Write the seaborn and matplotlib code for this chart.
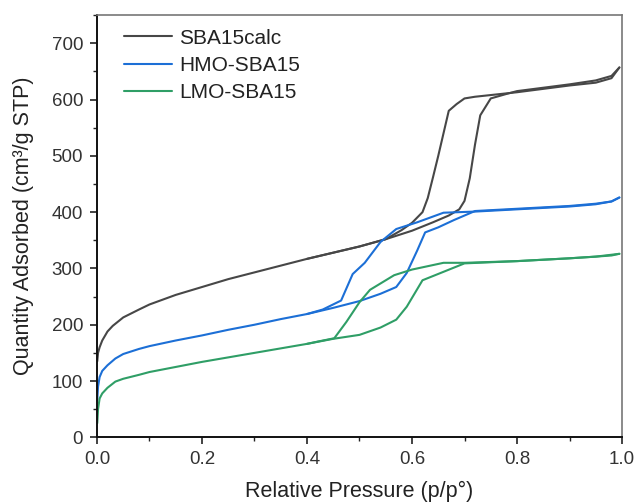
import numpy as np
import pandas as pd
import matplotlib
matplotlib.use("Agg")
import matplotlib.pyplot as plt
from matplotlib.ticker import MultipleLocator
import seaborn as sns

series_names = ["SBA15calc", "HMO-SBA15", "LMO-SBA15"]
series_colors = ["#474747", "#1c6fd6", "#2f9e66"]

sba_ads_x = [0.0005, 0.002, 0.005, 0.01, 0.02, 0.03, 0.05, 0.08, 0.1, 0.15, 0.2, 0.25, 0.3, 0.35,
             0.4, 0.45, 0.5, 0.55, 0.6, 0.64, 0.67, 0.69, 0.70, 0.71, 0.72, 0.73, 0.75, 0.78, 0.8,
             0.85, 0.9, 0.95, 0.98, 0.995]
sba_ads_y = [135, 150, 160, 172, 188, 198, 213, 227, 236, 253, 267, 281, 293, 305,
             317, 328, 339, 352, 367, 382, 394, 405, 420, 460, 520, 572, 602, 610, 615,
             621, 627, 634, 642, 657]
sba_des_x = [0.995, 0.98, 0.95, 0.9, 0.85, 0.8, 0.75, 0.72, 0.70, 0.685, 0.67, 0.66, 0.65, 0.64,
             0.63, 0.62, 0.60, 0.58, 0.55, 0.5, 0.45, 0.4]
sba_des_y = [657, 638, 630, 625, 619, 613, 608, 605, 602, 592, 580, 540, 500, 462,
             425, 400, 381, 368, 352, 339, 328, 317]

hmo_ads_x = [0.0005, 0.002, 0.005, 0.01, 0.02, 0.035, 0.05, 0.08, 0.1, 0.15, 0.2, 0.25, 0.3, 0.35,
             0.4, 0.45, 0.5, 0.54, 0.57, 0.59, 0.61, 0.625, 0.65, 0.68, 0.72, 0.8, 0.9, 0.95,
             0.98, 0.995]
hmo_ads_y = [66, 90, 107, 118, 128, 140, 148, 157, 162, 172, 181, 191, 200, 210,
             219, 230, 242, 255, 267, 292, 332, 364, 373, 386, 402, 406, 411, 415,
             419, 426]
hmo_des_x = [0.995, 0.98, 0.95, 0.9, 0.8, 0.72, 0.66, 0.61, 0.57, 0.54, 0.51, 0.487, 0.465, 0.43, 0.4]
hmo_des_y = [426, 419, 414, 410, 405, 401, 399, 382, 370, 347, 310, 290, 243, 227, 219]

lmo_ads_x = [0.0005, 0.002, 0.005, 0.01, 0.02, 0.035, 0.05, 0.08, 0.1, 0.15, 0.2, 0.25, 0.3, 0.35,
             0.4, 0.45, 0.5, 0.54, 0.57, 0.59, 0.62, 0.66, 0.70, 0.8, 0.9, 0.95, 0.98, 0.995]
lmo_ads_y = [25, 50, 69, 78, 88, 99, 104, 111, 116, 125, 134, 142, 150, 158,
             166, 175, 182, 195, 209, 232, 279, 294, 309, 313, 318, 321, 323, 326]
lmo_des_x = [0.995, 0.95, 0.9, 0.8, 0.7, 0.66, 0.6, 0.566, 0.52, 0.5, 0.475, 0.452, 0.42, 0.4]
lmo_des_y = [326, 321, 318, 313, 310, 310, 298, 288, 262, 240, 205, 176, 170, 166]

x_ticks = [0.0, 0.2, 0.4, 0.6, 0.8, 1.0]
y_ticks = [0, 100, 200, 300, 400, 500, 600, 700]

sns.set_style("ticks")
plt.rcParams['font.family'] = ['Liberation Sans', 'DejaVu Sans']

fig = plt.figure(figsize=(6.36, 5.04), dpi=100)
ax = fig.add_axes([0.1525, 0.1323, 0.8255, 0.8377])

branches = [
    (sba_ads_x, sba_ads_y, sba_des_x, sba_des_y),
    (hmo_ads_x, hmo_ads_y, hmo_des_x, hmo_des_y),
    (lmo_ads_x, lmo_ads_y, lmo_des_x, lmo_des_y),
]
for name, color, (ax_, ay_, dx_, dy_) in zip(series_names, series_colors, branches):
    sns.lineplot(x=ax_, y=ay_, sort=False, color=color, lw=1.5, label=name, ax=ax)
    sns.lineplot(x=dx_, y=dy_, sort=False, color=color, lw=1.5, ax=ax)

ax.set_xlim(0, 1.0)
ax.set_ylim(0, 750)
ax.set_xticks(x_ticks)
ax.set_xticklabels([f"{v:.1f}" for v in x_ticks])
ax.set_yticks(y_ticks)
ax.xaxis.set_minor_locator(MultipleLocator(0.1))
ax.yaxis.set_minor_locator(MultipleLocator(50))
ax.tick_params(which='major', direction='out', length=5, width=1.2, labelsize=13.5,
               colors='#222222', labelcolor='#333333', pad=5)
ax.tick_params(which='minor', direction='out', length=3, width=1.0, colors='#222222')
for s in ['left', 'bottom']:
    ax.spines[s].set_color('#111111')
    ax.spines[s].set_linewidth(1.4)
for s in ['top', 'right']:
    ax.spines[s].set_visible(True)
    ax.spines[s].set_color('#777777')
    ax.spines[s].set_linewidth(1.2)

ax.set_xlabel("Relative Pressure (p/p°)", fontsize=15.5, color='#222222', labelpad=9)
ax.set_ylabel("Quantity Adsorbed (cm³/g STP)", fontsize=15.5, color='#222222', labelpad=13)

leg = ax.legend(loc='upper left', frameon=False, fontsize=15, handlelength=2.3,
                handletextpad=0.35, labelspacing=0.4, borderpad=0, borderaxespad=0,
                bbox_to_anchor=(0.052, 0.968))
for t in leg.get_texts():
    t.set_color('#222222')

fig.savefig("out.png", dpi=100)
